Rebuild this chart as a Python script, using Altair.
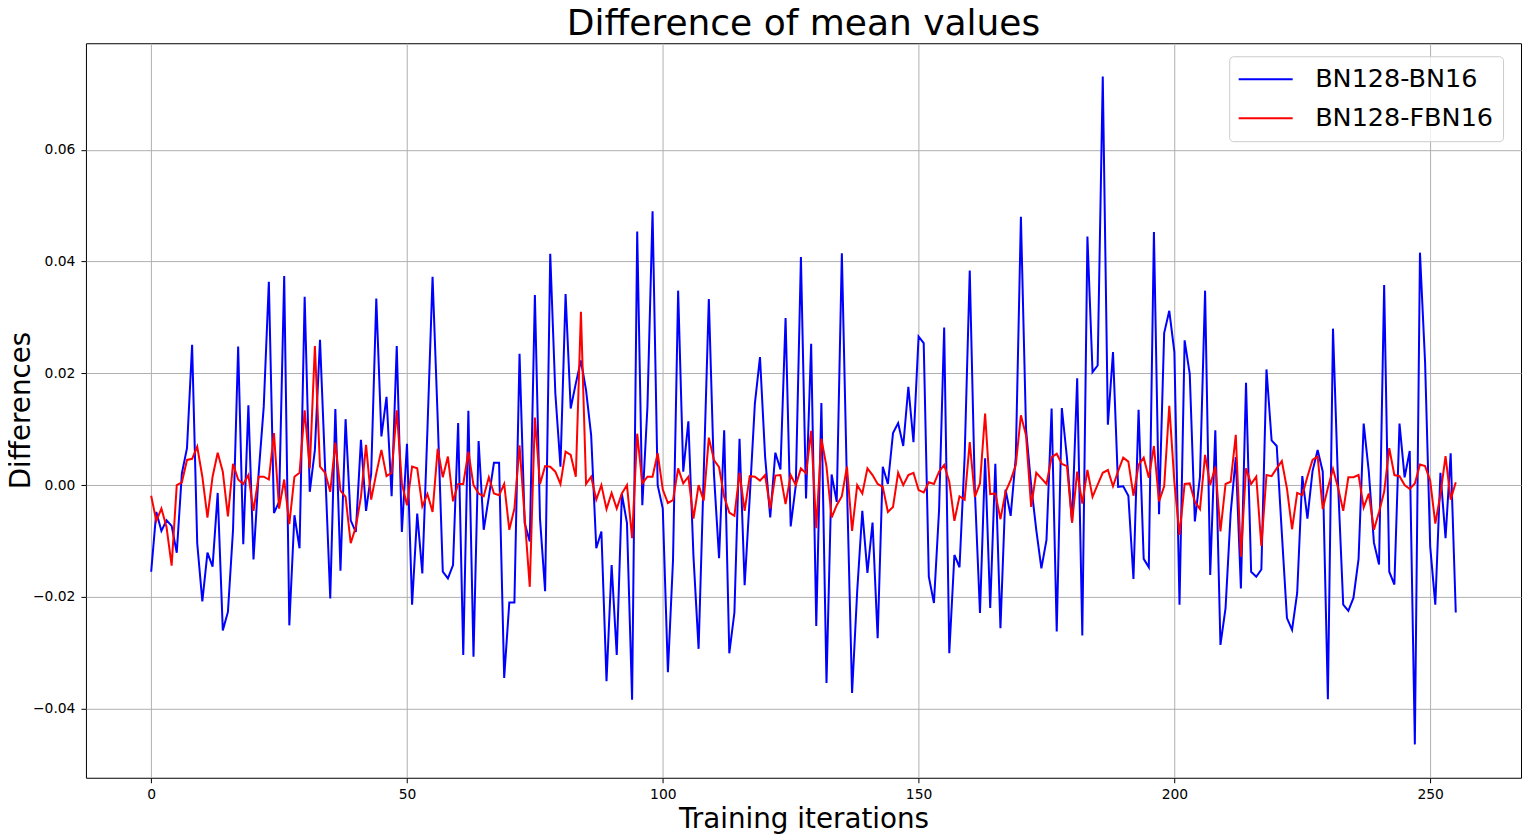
import altair as alt
import pandas as pd

# Training iteration index (x axis)
iterations = list(range(256))

# Difference of mean values, BN128 - BN16 (blue)
bn128_bn16 = [
    -0.0155, -0.0048, -0.0082, -0.0063, -0.0073, -0.0121, 0.0021, 0.0066, 0.0251, -0.0104,
    -0.0208, -0.0121, -0.0146, -0.0014, -0.0260, -0.0227, -0.0080, 0.0248, -0.0106, 0.0143,
    -0.0133, 0.0020, 0.0140, 0.0364, -0.0050, -0.0030, 0.0374, -0.0251, -0.0054, -0.0113,
    0.0337, -0.0012, 0.0063, 0.0260, 0.0030, -0.0203, 0.0136, -0.0153, 0.0118, -0.0063,
    -0.0084, 0.0081, -0.0046, 0.0020, 0.0334, 0.0087, 0.0158, -0.0020, 0.0249, -0.0084,
    0.0074, -0.0214, -0.0051, -0.0158, 0.0100, 0.0373, 0.0120, -0.0155, -0.0167, -0.0143,
    0.0111, -0.0304, 0.0133, -0.0307, 0.0079, -0.0080, -0.0021, 0.0040, 0.0040, -0.0345,
    -0.0210, -0.0210, 0.0235, -0.0068, -0.0101, 0.0340, -0.0060, -0.0190, 0.0414, 0.0164,
    0.0033, 0.0342, 0.0137, 0.0182, 0.0223, 0.0170, 0.0089, -0.0113, -0.0083, -0.0351,
    -0.0143, -0.0304, -0.0016, -0.0068, -0.0384, 0.0454, -0.0036, 0.0140, 0.0490, 0.0000,
    -0.0042, -0.0335, -0.0134, 0.0348, 0.0024, 0.0114, -0.0128, -0.0293, 0.0020, 0.0333,
    0.0020, -0.0131, 0.0098, -0.0301, -0.0228, 0.0083, -0.0179, -0.0021, 0.0146, 0.0229,
    0.0051, -0.0058, 0.0058, 0.0028, 0.0299, -0.0074, 0.0000, 0.0408, -0.0024, 0.0253,
    -0.0252, 0.0147, -0.0354, 0.0019, -0.0030, 0.0415, 0.0000, -0.0372, -0.0190, -0.0046,
    -0.0157, -0.0067, -0.0274, 0.0033, 0.0002, 0.0093, 0.0111, 0.0070, 0.0176, 0.0077,
    0.0266, 0.0254, -0.0164, -0.0211, -0.0045, 0.0282, -0.0301, -0.0125, -0.0147, 0.0050,
    0.0384, -0.0010, -0.0229, 0.0048, -0.0220, 0.0038, -0.0256, -0.0008, -0.0055, 0.0050,
    0.0480, 0.0100, 0.0000, -0.0080, -0.0149, -0.0098, 0.0137, -0.0262, 0.0138, 0.0049,
    -0.0067, 0.0191, -0.0269, 0.0445, 0.0202, 0.0214, 0.0731, 0.0108, 0.0238, -0.0003,
    -0.0002, -0.0019, -0.0168, 0.0135, -0.0132, -0.0147, 0.0453, -0.0052, 0.0272, 0.0312,
    0.0238, -0.0214, 0.0259, 0.0199, -0.0065, 0.0015, 0.0348, -0.0161, 0.0098, -0.0286,
    -0.0220, -0.0050, 0.0050, -0.0185, 0.0183, -0.0155, -0.0164, -0.0151, 0.0207, 0.0080,
    0.0070, -0.0086, -0.0238, -0.0259, -0.0193, 0.0016, -0.0060, 0.0025, 0.0063, 0.0024,
    -0.0383, 0.0280, 0.0000, -0.0214, -0.0225, -0.0202, -0.0132, 0.0110, 0.0024, -0.0103,
    -0.0142, 0.0358, -0.0155, -0.0178, 0.0110, 0.0014, 0.0061, -0.0464, 0.0416, 0.0220,
    -0.0110, -0.0214, 0.0022, -0.0095, 0.0057, -0.0228,
]

# Difference of mean values, BN128 - FBN16 (red)
bn128_fbn16 = [
    -0.0019, -0.0064, -0.0042, -0.0075, -0.0144, 0.0000, 0.0005, 0.0045, 0.0047, 0.0069,
    0.0015, -0.0058, 0.0015, 0.0058, 0.0024, -0.0056, 0.0038, 0.0010, 0.0002, 0.0018,
    -0.0046, 0.0015, 0.0015, 0.0010, 0.0093, -0.0042, 0.0010, -0.0070, 0.0015, 0.0022,
    0.0134, 0.0030, 0.0249, 0.0033, 0.0022, -0.0012, 0.0076, -0.0010, -0.0021, -0.0104,
    -0.0075, -0.0021, 0.0072, -0.0026, 0.0021, 0.0063, 0.0016, 0.0022, 0.0134, 0.0003,
    -0.0036, 0.0033, 0.0030, -0.0038, -0.0016, -0.0048, 0.0065, 0.0014, 0.0051, -0.0029,
    0.0002, 0.0002, 0.0060, 0.0000, -0.0015, -0.0020, 0.0014, -0.0015, -0.0018, 0.0002,
    -0.0080, -0.0042, 0.0071, -0.0057, -0.0182, 0.0121, 0.0002, 0.0034, 0.0033, 0.0024,
    0.0002, 0.0060, 0.0054, 0.0015, 0.0310, 0.0002, 0.0015, -0.0026, 0.0000, -0.0043,
    -0.0014, -0.0042, -0.0015, 0.0000, -0.0095, 0.0092, 0.0003, 0.0015, 0.0015, 0.0057,
    -0.0008, -0.0032, -0.0027, 0.0030, 0.0003, 0.0015, -0.0060, 0.0000, -0.0028, 0.0085,
    0.0045, 0.0032, -0.0021, -0.0049, -0.0055, 0.0022, -0.0046, 0.0016, 0.0015, 0.0008,
    0.0018, -0.0042, 0.0017, 0.0018, -0.0034, 0.0018, 0.0000, 0.0030, 0.0021, 0.0097,
    -0.0077, 0.0083, 0.0033, -0.0058, -0.0036, -0.0020, 0.0033, -0.0082, 0.0000, -0.0015,
    0.0030, 0.0018, 0.0002, -0.0003, -0.0048, -0.0039, 0.0022, 0.0000, 0.0018, 0.0022,
    -0.0009, -0.0013, 0.0005, 0.0002, 0.0024, 0.0036, 0.0006, -0.0064, -0.0020, -0.0026,
    0.0077, -0.0021, 0.0003, 0.0128, -0.0016, -0.0015, -0.0061, -0.0012, 0.0009, 0.0036,
    0.0125, 0.0089, -0.0039, 0.0022, 0.0012, 0.0002, 0.0050, 0.0056, 0.0038, 0.0034,
    -0.0067, 0.0024, -0.0033, 0.0027, -0.0021, 0.0001, 0.0022, 0.0027, -0.0002, 0.0025,
    0.0049, 0.0042, -0.0019, 0.0036, 0.0049, 0.0013, 0.0070, -0.0029, -0.0002, 0.0142,
    0.0005, -0.0089, 0.0002, 0.0003, -0.0030, -0.0043, 0.0054, 0.0000, 0.0033, -0.0083,
    0.0002, 0.0006, 0.0090, -0.0128, 0.0030, 0.0002, 0.0015, -0.0109, 0.0018, 0.0016,
    0.0030, 0.0043, -0.0006, -0.0079, -0.0014, -0.0018, 0.0015, 0.0045, 0.0051, -0.0043,
    -0.0005, 0.0029, -0.0005, -0.0046, 0.0014, 0.0014, 0.0018, -0.0040, -0.0015, -0.0080,
    -0.0048, -0.0012, 0.0066, 0.0018, 0.0016, 0.0000, -0.0007, 0.0003, 0.0037, 0.0034,
    0.0008, -0.0069, -0.0017, 0.0052, -0.0026, 0.0005,
]

series_names = ["BN128-BN16", "BN128-FBN16"]
series_colors = ["#0000ff", "#ff0000"]
x_tick_values = [0, 50, 100, 150, 200, 250]
y_tick_values = [-0.04, -0.02, 0.0, 0.02, 0.04, 0.06]

df = pd.DataFrame({
    "iteration": iterations + iterations,
    "value": bn128_bn16 + bn128_fbn16,
    "series": [series_names[0]] * len(iterations) + [series_names[1]] * len(iterations),
})

# matplotlib-like 5% margins on both axes
x_lo, x_hi = min(iterations), max(iterations)
x_pad = 0.05 * (x_hi - x_lo)
all_vals = bn128_bn16 + bn128_fbn16
y_lo, y_hi = min(all_vals), max(all_vals)
y_pad = 0.05 * (y_hi - y_lo)

FONT = "DejaVu Sans"

chart = alt.Chart(df).mark_line(strokeWidth=2).encode(
    x=alt.X(
        "iteration:Q",
        scale=alt.Scale(domain=[x_lo - x_pad, x_hi + x_pad], nice=False, zero=False),
        axis=alt.Axis(
            values=x_tick_values, format="d", title="Training iterations",
            titleBaseline="alphabetic", titleY=50, titleAnchor="middle",
            labelPadding=5,
        ),
    ),
    y=alt.Y(
        "value:Q",
        scale=alt.Scale(domain=[y_lo - y_pad, y_hi + y_pad], nice=False, zero=False),
        axis=alt.Axis(
            values=y_tick_values, format=".2f", title="Differences",
            titleBaseline="alphabetic", titleX=-56, titleY=367, titleAngle=270,
            labelPadding=6,
        ),
    ),
    color=alt.Color(
        "series:N",
        scale=alt.Scale(domain=series_names, range=series_colors),
        legend=alt.Legend(
            title=None, orient="none", legendX=1144, legendY=13,
            symbolType="M-2.16,0L2.16,0", symbolSize=625, symbolStrokeWidth=2,
            symbolOffset=13.5, labelOffset=36,
            labelFont=FONT, labelFontSize=25.5, labelColor="black", labelLimit=500,
            rowPadding=12, padding=9.5,
            fillColor="rgba(255,255,255,0.8)", strokeColor="#cccccc", cornerRadius=4,
        ),
    ),
).properties(
    width=1436,
    height=735,
    title=alt.TitleParams(
        "Difference of mean values", fontSize=36, font=FONT, fontWeight="normal",
        color="black", anchor="middle", offset=0,
    ),
    autosize=alt.AutoSizeParams(type="none"),
    padding={"left": 78, "top": 35, "right": 10, "bottom": 56},
).configure_view(
    stroke="black", strokeWidth=1,
).configure_axis(
    domain=False,
    grid=True, gridColor="#b0b0b0", gridWidth=1,
    ticks=True, tickColor="black", tickSize=5, tickWidth=1,
    labelFont=FONT, labelFontSize=13.9, labelColor="black",
    titleFont=FONT, titleFontSize=27.8, titleFontWeight="normal", titleColor="black",
)

chart.save("out.html", embed_options={"renderer": "svg", "actions": False})
